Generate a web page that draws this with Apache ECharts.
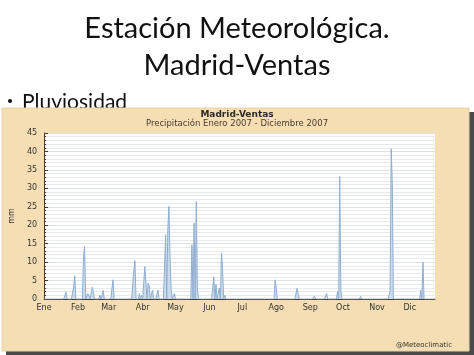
<!DOCTYPE html>
<html>
<head>
<meta charset="utf-8">
<script src="https://cdn.jsdelivr.net/npm/echarts@6/dist/echarts.min.js"></script>
<style>
  * { margin: 0; padding: 0; }
  body { background: #fff; }
</style>
</head>
<body>
<!-- contenedor del gráfico -->
<div id="main" style="width: 474px;height: 355px;"></div>
<script>
// meses (etiquetas del eje x) y su día de inicio en el año
var meses = ["Ene", "Feb", "Mar", "Abr", "May", "Jun", "Jul", "Ago", "Sep", "Oct", "Nov", "Dic"];
var inicioMes = [0, 31, 59, 90, 120, 151, 181, 212, 243, 273, 304, 334];
var ultimoDia = 357;

// días con lluvia (día del año, 0 = 1 de enero) y precipitación en mm
var diasLluvia = [20, 27, 28, 36, 37, 40, 41, 44, 45, 51, 54,
  62, 63, 82, 83, 87, 89, 92, 93, 95, 96, 99, 104,
  111, 113, 114, 115, 116, 119,
  135, 137, 139, 140,
  155, 157, 160, 162, 163, 165,
  211, 212, 231, 232, 247, 258, 268, 270, 271,
  289, 316, 317, 318, 344, 346];
var mmLluvia = [1.8, 3.3, 6.3, 11.5, 14.2, 1.5, 1.0, 3.2, 2.0, 1.0, 2.3,
  3.0, 5.2, 7.9, 10.4, 1.5, 1.0, 8.8, 8.3, 4.3, 3.5, 2.4, 2.4,
  17.4, 18.9, 25.1, 11.5, 2.9, 1.5,
  14.7, 20.6, 26.4, 3.0,
  6.0, 4.0, 3.0, 12.5, 8.0, 1.0,
  5.2, 3.0, 2.9, 1.5, 0.8, 1.5, 2.0, 33.2, 2.5,
  0.7, 2.0, 40.7, 31.5, 2.4, 10.0];

// serie diaria: los días sin registro son 0 mm
var lluvia = {};
for (var i = 0; i < diasLluvia.length; i++) {
  lluvia[diasLluvia[i]] = mmLluvia[i];
}
var datos = [];
for (var d = 0; d <= ultimoDia; d++) {
  datos.push([d, lluvia[d] || 0]);
}

var chart = echarts.init(document.getElementById("main"));
var fuente = "DejaVu Sans";
var option = {
  animation: false,
  backgroundColor: "#fff",
  graphic: [
    // panel marrón claro con sombra
    { type: "rect", shape: { x: 6, y: 112, width: 468, height: 243 }, style: { fill: "#4a4a4a" }, z: -2 },
    { type: "rect", shape: { x: 2, y: 108, width: 467, height: 243 }, style: { fill: "#f5deb3", stroke: "#e8d2a6", lineWidth: 1 }, z: -1 },
    { type: "text", x: 237, y: 29, style: { text: "Estación Meteorológica.", font: "29px Lato", fill: "#111", textAlign: "center", textVerticalAlign: "middle" } },
    { type: "text", x: 237, y: 66, style: { text: "Madrid-Ventas", font: "29px Lato", fill: "#111", textAlign: "center", textVerticalAlign: "middle" } },
    { type: "circle", shape: { cx: 10, cy: 101, r: 2 }, style: { fill: "#111" }, z: -3 },
    { type: "text", x: 22, y: 102, style: { text: "Pluviosidad", font: "21px Lato", fill: "#111", textAlign: "left", textVerticalAlign: "middle" }, z: -3 },
    { type: "text", x: 237, y: 115, style: { text: "Madrid-Ventas", font: "bold 9px " + fuente, fill: "#2a2a2a", textAlign: "center", textVerticalAlign: "middle" } },
    { type: "text", x: 237, y: 124, style: { text: "Precipitación Enero 2007 - Diciembre 2007", font: "8.5px " + fuente, fill: "#4a3c2c", textAlign: "center", textVerticalAlign: "middle" } },
    { type: "text", x: 452, y: 345, style: { text: "@Meteoclimatic", font: "7px " + fuente, fill: "#333", textAlign: "right", textVerticalAlign: "middle" } }
  ],
  grid: {
    left: 40,
    right: 39,
    top: 133,
    bottom: 56,
    show: true,
    backgroundColor: "#fff",
    borderWidth: 0
  },
  xAxis: {
    type: "value",
    min: 0,
    max: ultimoDia,
    axisLine: { show: true, lineStyle: { color: "#4a3a2a", width: 1 } },
    axisTick: { show: false },
    splitLine: { show: false },
    axisLabel: {
      customValues: inicioMes,
      formatter: function(v) {
        return meses[inicioMes.indexOf(v)];
      },
      fontFamily: fuente,
      fontSize: 8,
      color: "#333",
      margin: 5
    }
  },
  yAxis: {
    type: "value",
    name: "mm",
    nameLocation: "middle",
    nameGap: 15,
    nameTextStyle: { fontFamily: fuente, fontSize: 8, color: "#333" },
    min: 0,
    max: 45,
    interval: 5,
    axisLine: { show: true, lineStyle: { color: "#4a3a2a", width: 1 } },
    axisTick: { show: true, inside: true, length: 4, lineStyle: { color: "#4a3a2a" } },
    minorTick: { show: true, splitNumber: 5, length: 2, lineStyle: { color: "#4a3a2a" } },
    splitLine: { show: true, lineStyle: { color: "#dde2e7", width: 1 } },
    minorSplitLine: { show: true, lineStyle: { color: "#e8ebee", width: 1 } },
    axisLabel: { fontFamily: fuente, fontSize: 8, color: "#333", margin: 7 }
  },
  series: [
    {
      name: "Precipitación",
      type: "line",
      data: datos,
      symbol: "none",
      silent: true,
      lineStyle: { color: "#8eaed0", width: 1 },
      areaStyle: { color: "#c8d8ea", opacity: 0.9 }
    }
  ]
};
chart.setOption(option);
</script>
</body>
</html>
